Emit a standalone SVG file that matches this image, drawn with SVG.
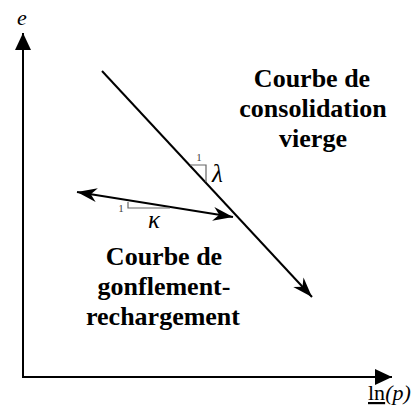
<svg xmlns="http://www.w3.org/2000/svg" width="417" height="416" viewBox="0 0 417 416">
<style>
.ax{stroke:#000;stroke-width:2;fill:none}
.ln{stroke:#000;stroke-width:2;fill:none}
.tri{stroke:#666;stroke-width:1.2;fill:none}
text{font-family:'Liberation Serif',serif}
.lbl{font-weight:bold;font-size:26px;text-anchor:middle;fill:#000}
.it{font-style:italic;font-size:22px;fill:#000}
.gr{font-style:italic;font-size:25px;fill:#000}
.one{font-size:11px;fill:#444}
</style>
<defs>
<marker id="tri" markerUnits="userSpaceOnUse" markerWidth="20" markerHeight="20" viewBox="-18 -9 20 18" refX="0" refY="0" orient="auto">
<path d="M0,0 L-17,-8 L-17,8 Z" fill="#000"/>
</marker>
<marker id="barb" markerUnits="userSpaceOnUse" markerWidth="24" markerHeight="20" viewBox="-22 -10 24 20" refX="0" refY="0" orient="auto-start-reverse">
<path d="M0,0 L-20,-7 L-14,0 L-20,7 Z" fill="#000"/>
</marker>
</defs>
<g id="connectors">
<line id="y-axis" class="ax" x1="23" y1="377" x2="23" y2="33" marker-end="url(#tri)"/>
<line id="x-axis" class="ax" x1="22" y1="377" x2="392" y2="377" marker-end="url(#tri)"/>
<line id="virgin" class="ln" x1="102" y1="71" x2="312" y2="297" marker-end="url(#barb)"/>
<line id="swell" class="ln" x1="77" y1="192" x2="233" y2="217" marker-start="url(#barb)" marker-end="url(#barb)"/>
</g>
<g id="lambda-slope">
<polyline class="tri" points="190,165 206,165 206,182"/>
<text class="one" x="199" y="161" text-anchor="middle">1</text>
<text class="gr" x="212" y="182">λ</text>
</g>
<g id="kappa-slope">
<polyline class="tri" points="128,202 128,208 170,208"/>
<text class="one" x="121" y="212" text-anchor="middle">1</text>
<text class="gr" x="148" y="228">κ</text>
</g>
<g id="label-e"><text class="it" x="17" y="25">e</text></g>
<g id="label-lnp">
<text x="368" y="400" font-size="22" fill="#000"><tspan text-decoration="underline">ln</tspan><tspan font-style="italic">(p)</tspan></text>
</g>
<g id="label-virgin">
<text class="lbl" x="312" y="87">Courbe de</text>
<text class="lbl" x="313" y="117">consolidation</text>
<text class="lbl" x="313" y="147">vierge</text>
</g>
<g id="label-swell">
<text class="lbl" x="164" y="265">Courbe de</text>
<text class="lbl" x="164" y="295">gonflement-</text>
<text class="lbl" x="163" y="325">rechargement</text>
</g>
</svg>
